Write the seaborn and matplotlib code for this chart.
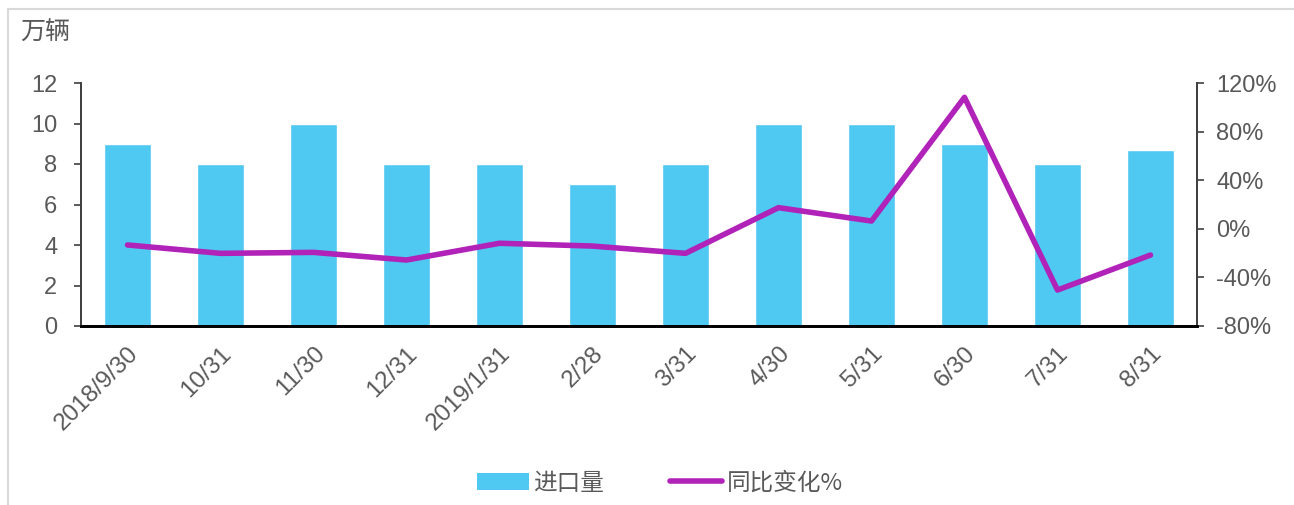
import numpy as np
import pandas as pd
import matplotlib
matplotlib.use("Agg")
import matplotlib.pyplot as plt
import seaborn as sns
from matplotlib.patches import Rectangle
from matplotlib.lines import Line2D
from matplotlib.patches import Patch

dates = ["2018/9/30", "10/31", "11/30", "12/31", "2019/1/31", "2/28",
         "3/31", "4/30", "5/31", "6/30", "7/31", "8/31"]
imports = [9, 8, 10, 8, 8, 7, 8, 10, 10, 9, 8, 8.7]
yoy_pct = [-13.3, -20.2, -19.4, -25.7, -11.9, -14.2, -20.2, 17.4, 6.4, 108.2, -50.4, -21.6]

df = pd.DataFrame({"date": dates, "imports": imports, "yoy": yoy_pct})

sns.set_theme(style="white")
plt.rcParams['font.family'] = ['Liberation Sans', 'Noto Sans CJK SC', 'DejaVu Sans']
TXT = "#595959"
BAR = "#4fc8f2"
LINE = "#b022b8"

fig = plt.figure(figsize=(12.94, 5.05), dpi=100)
ax = fig.add_axes([81 / 1294, 1 - 326 / 505, (1197 - 81) / 1294, (326 - 83) / 505])
fig.patches.append(Rectangle((8 / 1294, -0.05), 1.2, 1 - 9 / 505 + 0.05, transform=fig.transFigure,
                             fill=False, edgecolor="#d9d9d9", linewidth=1.5, zorder=0))

sns.barplot(data=df, x="date", y="imports", color=BAR, width=0.5, saturation=1, ax=ax)
ax.set_ylim(0, 12)
ax.set_yticks(range(0, 13, 2))
ax.set_xlim(-0.5, len(dates) - 0.5)
ax.set_xlabel("")
ax.set_ylabel("")

ax2 = ax.twinx()
sns.lineplot(data=df, x="date", y="yoy", sort=False, color=LINE, linewidth=4,
             solid_capstyle="round", ax=ax2)
ax2.set_ylim(-80, 120)
ax2.set_yticks(range(-80, 121, 40))
ax2.set_yticklabels([f"{v}%" for v in range(-80, 121, 40)])
ax2.set_ylabel("")
ax2.set_xlim(-0.5, len(dates) - 0.5)

for a in (ax, ax2):
    a.spines["top"].set_visible(False)
    for s in a.spines.values():
        s.set_color("#404040")
        s.set_linewidth(1.3)
    a.spines["bottom"].set_color("black")
    a.spines["bottom"].set_linewidth(2)
ax.tick_params(axis="y", which="both", left=True, length=5, width=1.2, color="#404040",
               labelsize=17, labelcolor=TXT, pad=12)
ax2.tick_params(axis="y", right=True, length=5, width=1.2, color="#404040",
                labelsize=17, labelcolor=TXT, pad=9)
ax.tick_params(axis="x", bottom=False, labelsize=17.5, labelcolor=TXT, pad=6)
plt.setp(ax.get_xticklabels(), rotation=45, ha="right", rotation_mode="anchor")

fig.text(20 / 1294, 1 - 33 / 505, "万辆", fontsize=18, color=TXT, va="center", ha="left",
         family=['Noto Sans CJK SC'])

handles = [Patch(facecolor=BAR, edgecolor="none"),
           Line2D([0], [0], color=LINE, linewidth=4, solid_capstyle="round")]
fig.legend(handles, ["进口量", "同比变化%"], loc="center", bbox_to_anchor=(660 / 1294, 1 - 483 / 505),
           ncol=2, frameon=False, prop={"family": ['Noto Sans CJK SC'], "size": 17},
           labelcolor=TXT, handlelength=2.2, handletextpad=0.2, columnspacing=2.8)

fig.savefig("out.png", dpi=100)
